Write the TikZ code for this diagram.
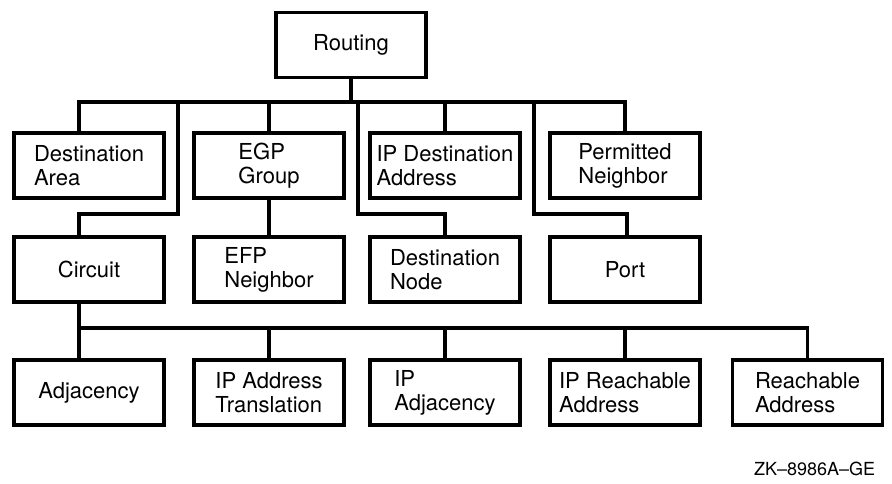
\documentclass[tikz,border=0pt]{standalone}
\usepackage{fontspec}
\setmainfont{TeX Gyre Heros}

\begin{document}
\begin{tikzpicture}[x=1pt, y=-1pt, line width=3.2pt]
\tikzstyle{box}=[draw, rectangle, line width=3.8pt, minimum width=150pt, minimum height=65pt, inner sep=0pt, align=left, font=\fontsize{22}{24}\selectfont]
\tikzstyle{wire}=[draw, line width=3.2pt]
\useasboundingbox (0,0) rectangle (892,484);

% top
\node[box]   (R)  at (351,45)    {Routing};
% first row
\node[box]   (DA) at (89,165.5)  {Destination\\Area};
\node[box]   (EG) at (269,165.5) {EGP\\Group};
\node[box]   (IA) at (445,165.5) {IP Destination\\Address};
\node[box]   (PN) at (625,165.5) {Permitted\\Neighbor};
% second row
\node[box]   (CI) at (89,269.5)  {Circuit};
\node[box]   (EN) at (269,269.5) {EFP\\Neighbor};
\node[box]   (DN) at (445,269.5) {Destination\\Node};
\node[box]   (PO) at (625,269.5) {Port};
% third row
\node[box]   (AD) at (89,392.5)  {Adjacency};
\node[box]   (AT) at (269,392.5) {IP Address\\Translation};
\node[box]   (IJ) at (445,392.5) {IP\\Adjacency};
\node[box]   (RA) at (625,392.5) {IP Reachable\\Address};
\node[box]   (RB) at (807.5,392.5) {Reachable\\Address};

\node[anchor=base east, font=\fontsize{18}{20}\selectfont] (tag) at (880,475) {ZK–8986A–GE};

% bus levels
\coordinate (top)  at (351,102);
\coordinate (mid)  at (0,214);
\coordinate (low)  at (0,328);
\coordinate (s1)   at (178,102);
\coordinate (s2)   at (358,102);
\coordinate (s3)   at (534,102);

\path[wire]
(R.south) -- (top)
([xshift=-10]DA.north) |- (top) -| (PN.north)
(EG.north) -- (EG.north |- top)
(IA.north) -- (IA.north |- top)

(s1) |- ([xshift=-10]mid -| CI.north) -- ([xshift=-10]CI.north)
(s2) |- (mid -| DN.north) -- (DN.north)
(s3) |- ([xshift=2]mid -| PO.north) -- ([xshift=2]PO.north)
(EG.south) -- (EN.north)

([xshift=-10]CI.south) |- (low -| RB.north) -- (RB.north)
([xshift=-10]AD.north) -- ([xshift=-10]AD.north |- low)
(AT.north) -- (AT.north |- low)
(IJ.north) -- (IJ.north |- low)
(RA.north) -- (RA.north |- low);

\end{tikzpicture}
\end{document}
